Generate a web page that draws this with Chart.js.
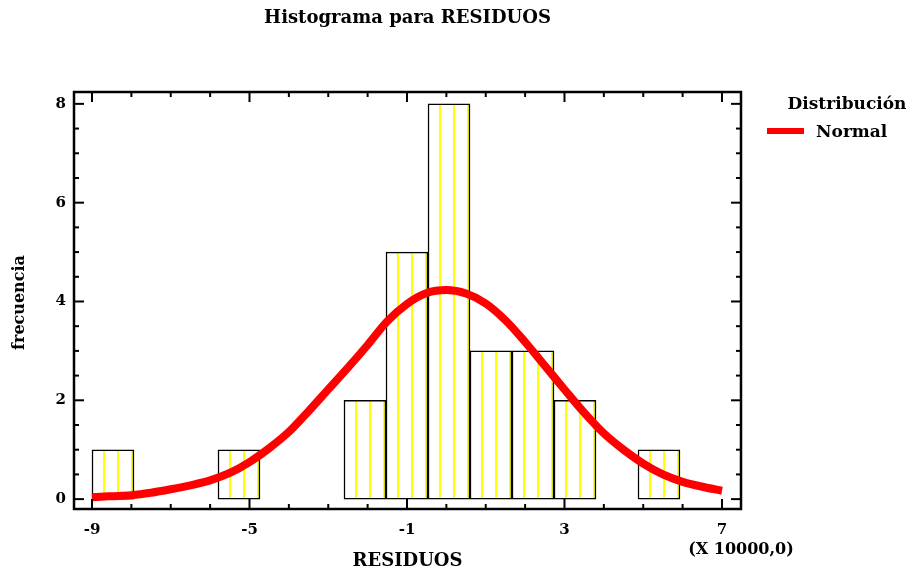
<!DOCTYPE html>
<html>
<head>
<meta charset="utf-8">
<script src="https://cdn.jsdelivr.net/npm/chart.js@4.4.0/dist/chart.umd.min.js"></script>
<style>
  html, body { margin: 0; padding: 0; background: #fff; }
</style>
</head>
<body>
<canvas id="histChart" width="914" height="571"></canvas>
<script>
// residuals histogram, x in units of 10000
const binCenters = [-8.467, -7.4, -6.333, -5.267, -4.2, -3.133, -2.067, -1.0, 0.067, 1.133, 2.2, 3.267, 4.333, 5.4, 6.467];
const binCounts = [1, 0, 0, 1, 0, 0, 2, 5, 8, 3, 3, 2, 0, 1, 0];

// fitted normal curve
const normalX = [-9, -8.5, -8, -7.5, -7, -6.5, -6, -5.5, -5, -4.5, -4, -3.5, -3, -2.5, -2, -1.5, -1, -0.5, 0,
  0.5, 1, 1.5, 2, 2.5, 3, 3.5, 4, 4.5, 5, 5.5, 6, 6.5, 7];
const normalY = [0.04, 0.06, 0.08, 0.13, 0.2, 0.28, 0.38, 0.53, 0.75, 1.03, 1.36, 1.78, 2.22, 2.66, 3.12, 3.6, 3.95, 4.17, 4.23,
  4.16, 3.96, 3.62, 3.18, 2.7, 2.22, 1.75, 1.33, 1.0, 0.72, 0.5, 0.35, 0.25, 0.17];

const xTickLabels = [-9, -5, -1, 3, 7];
const yTickLabels = [0, 2, 4, 6, 8];

const FONT = "'DejaVu Serif', serif";

// yellow vertical hatch for the bars
const hatchCanvas = document.createElement("canvas");
hatchCanvas.width = 14;
hatchCanvas.height = 8;
const hctx = hatchCanvas.getContext("2d");
hctx.fillStyle = "#ffffff";
hctx.fillRect(0, 0, 14, 8);
hctx.fillStyle = "#ffff00";
hctx.fillRect(5, 0, 2, 8);

const frameAxes = {
  id: "frameAxes",
  afterDraw(chart) {
    const { ctx, chartArea: a } = chart;
    const x = chart.scales.x;
    const y = chart.scales.y;

    function seg(x1, y1, x2, y2) {
      ctx.beginPath();
      ctx.moveTo(x1, y1);
      ctx.lineTo(x2, y2);
      ctx.stroke();
    }

    ctx.save();
    ctx.strokeStyle = "#000";
    ctx.lineWidth = 2.5;
    ctx.strokeRect(a.left, a.top, a.right - a.left, a.bottom - a.top);

    // ticks point inward on all four sides
    ctx.lineWidth = 2;
    for (let v = xTickLabels[0]; v <= xTickLabels[xTickLabels.length - 1]; v++) {
      const px = x.getPixelForValue(v);
      const len = xTickLabels.includes(v) ? 10 : 5;
      seg(px, a.bottom, px, a.bottom - len);
      seg(px, a.top, px, a.top + len);
    }
    for (let v = yTickLabels[0]; v <= yTickLabels[yTickLabels.length - 1]; v += 0.5) {
      const py = y.getPixelForValue(v);
      const len = yTickLabels.includes(v) ? 10 : 5;
      seg(a.left, py, a.left + len, py);
      seg(a.right, py, a.right - len, py);
    }

    ctx.fillStyle = "#000";
    ctx.font = "bold 15px " + FONT;
    ctx.textAlign = "center";
    ctx.textBaseline = "middle";
    xTickLabels.forEach(v => {
      ctx.fillText(String(v), x.getPixelForValue(v), a.bottom + 21);
    });
    ctx.textAlign = "right";
    yTickLabels.forEach(v => {
      ctx.fillText(String(v), a.left - 8, y.getPixelForValue(v));
    });

    ctx.font = "bold 16px " + FONT;
    ctx.textAlign = "center";
    ctx.fillText("(X 10000,0)", a.right, a.bottom + 41);
    ctx.font = "bold 18px " + FONT;
    ctx.fillText("RESIDUOS", (a.left + a.right) / 2, a.bottom + 52);

    ctx.save();
    ctx.font = "bold 16px " + FONT;
    ctx.translate(20, (a.top + a.bottom) / 2 + 2);
    ctx.rotate(-Math.PI / 2);
    ctx.fillText("frecuencia", 0, 0);
    ctx.restore();

    // legend
    const ds = chart.data.datasets[0];
    ctx.font = "bold 17px " + FONT;
    ctx.fillText("Distribución", 847, 105);
    ctx.strokeStyle = ds.borderColor;
    ctx.lineWidth = 6;
    seg(767, 131, 804, 131);
    ctx.textAlign = "left";
    ctx.fillText(ds.label, 816, 133);
    ctx.restore();
  }
};

new Chart(document.getElementById("histChart"), {
  type: "bar",
  data: {
    datasets: [
      {
        type: "line",
        label: "Normal",
        data: normalX.map((v, i) => ({ x: v, y: normalY[i] })),
        borderColor: "#ff0000",
        borderWidth: 8,
        pointRadius: 0,
        cubicInterpolationMode: "monotone",
        order: 0
      },
      {
        label: "RESIDUOS",
        data: binCenters.map((v, i) => ({ x: v, y: binCounts[i] === 0 ? null : binCounts[i] })),
        backgroundColor: hctx.createPattern(hatchCanvas, "repeat"),
        borderColor: "#000",
        borderWidth: 1.5,
        borderSkipped: false,
        barPercentage: 1,
        categoryPercentage: 1,
        order: 1
      }
    ]
  },
  options: {
    responsive: false,
    animation: false,
    devicePixelRatio: 1,
    layout: { padding: { left: 74, right: 173, top: 0, bottom: 62 } },
    plugins: {
      legend: { display: false },
      tooltip: { enabled: false },
      title: {
        display: true,
        text: "Histograma para RESIDUOS",
        color: "#000",
        font: { family: FONT, size: 18, weight: "bold" },
        padding: { top: 8, bottom: 62.4 }
      }
    },
    scales: {
      x: { type: "linear", min: -9.457, max: 7.483, offset: false, display: false },
      y: { type: "linear", min: -0.2, max: 8.24, display: false }
    }
  },
  plugins: [frameAxes]
});
</script>
</body>
</html>
